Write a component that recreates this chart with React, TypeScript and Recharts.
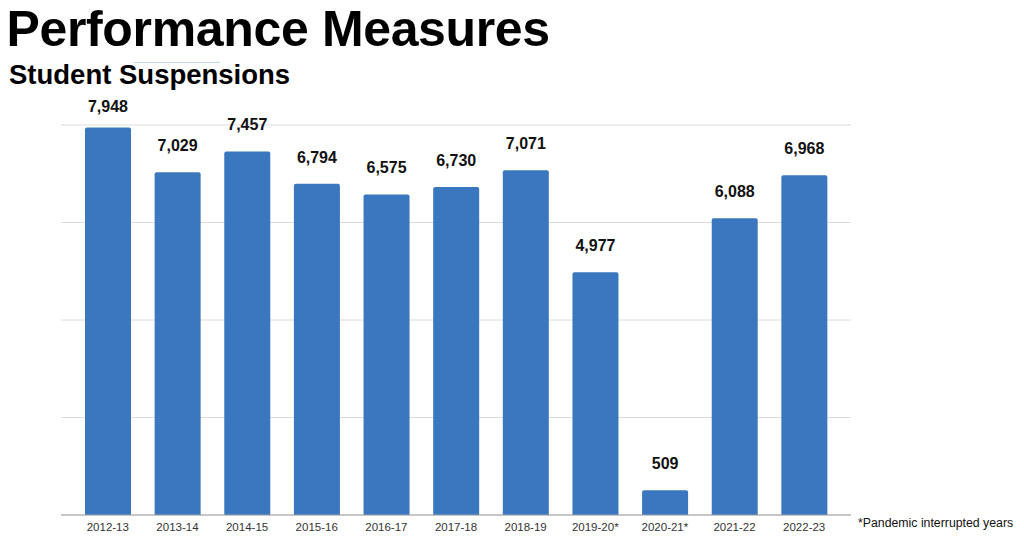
import React from "react";
import { BarChart, Bar, XAxis, YAxis, CartesianGrid, LabelList } from "recharts";

const years = ["2012-13", "2013-14", "2014-15", "2015-16", "2016-17", "2017-18", "2018-19", "2019-20*", "2020-21*", "2021-22", "2022-23"];
const suspensions = [7948, 7029, 7457, 6794, 6575, 6730, 7071, 4977, 509, 6088, 6968];
const yTicks = [0, 2000, 4000, 6000, 8000];

const data = years.map((y, i) => ({ year: y, value: suspensions[i] }));

const FONT = '"Liberation Sans", Arial, Helvetica, sans-serif';

const ValueLabel = (props: any) => {
  const { x, y, width, value } = props;
  const ty = Math.max(y - 21, 112);
  return (
    <text x={x + width / 2} y={ty} textAnchor="middle" fontFamily={FONT} fontSize={16} fontWeight="bold" fill="#111">
      {Number(value).toLocaleString("en-US")}
    </text>
  );
};

export default function App() {
  return (
    <div style={{ position: "absolute", left: 0, top: 0, width: 1024, height: 540, background: "#fff", overflow: "hidden", fontFamily: FONT }}>
      <div style={{ position: "absolute", left: 6.5, top: 4, fontSize: 50, lineHeight: 1, fontWeight: "bold", color: "#000", letterSpacing: -0.35, whiteSpace: "nowrap" }}>
        Performance Measures
      </div>
      <div style={{ position: "absolute", left: 134, top: 62, width: 86, height: 1, background: "#c3d7ec" }} />
      <div style={{ position: "absolute", left: 9, top: 60.5, fontSize: 27.5, lineHeight: 1, fontWeight: "bold", color: "#000", whiteSpace: "nowrap" }}>
        Student Suspensions
      </div>
      <div style={{ position: "absolute", left: 858, top: 517.4, fontSize: 12.3, lineHeight: 1, color: "#111", whiteSpace: "nowrap" }}>
        *Pandemic interrupted years
      </div>
      <div style={{ position: "absolute", left: 0, top: 0 }}>
        <BarChart width={1024} height={540} data={data} margin={{ top: 125, right: 173, bottom: 0, left: 61 }}>
          <CartesianGrid vertical={false} stroke="#dcdcdc" strokeWidth={1} />
          <YAxis hide domain={[0, 8000]} ticks={yTicks} />
          <XAxis
            dataKey="year"
            height={25}
            interval={0}
            padding={{ left: 12, right: 12 }}
            tickLine={false}
            axisLine={{ stroke: "#a0a0a0", strokeWidth: 1.2 }}
            tick={{ fontSize: 11.5, fill: "#333", fontFamily: FONT }}
          />
          <Bar dataKey="value" fill="#3a77bf" barSize={46} radius={[2, 2, 0, 0]} isAnimationActive={false}>
            <LabelList dataKey="value" content={<ValueLabel />} />
          </Bar>
        </BarChart>
      </div>
    </div>
  );
}
